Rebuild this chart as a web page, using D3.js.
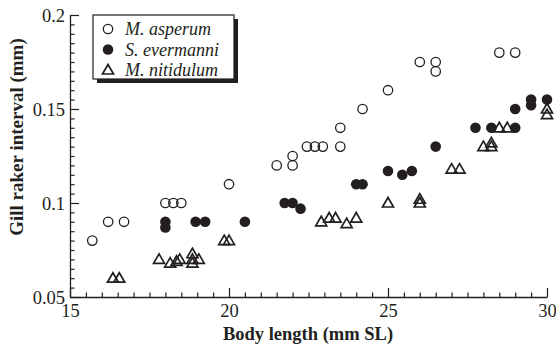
<!DOCTYPE html>
<html>
<head>
<meta charset="utf-8">
<script src="https://cdn.jsdelivr.net/npm/d3@7"></script>
<style>
  body { margin: 0; background: #fff; }
  svg { display: block; }
  text { font-family: "Liberation Serif", "Times New Roman", serif; fill: #231f20; }
</style>
</head>
<body>
<svg id="chart" width="556" height="347"></svg>
<script>
// ---- data ----
const seriesNames = ["M. asperum", "S. evermanni", "M. nitidulum"];
const asperumX = [15.7, 16.2, 16.7, 18.0, 18.25, 18.5, 20.0, 21.5, 22.0, 22.0, 22.45, 22.7, 22.95, 23.5, 23.5, 24.2, 25.0, 26.0, 26.5, 26.5, 28.5, 29.0];
const asperumY = [0.08, 0.09, 0.09, 0.1, 0.1, 0.1, 0.11, 0.12, 0.12, 0.125, 0.13, 0.13, 0.13, 0.13, 0.14, 0.15, 0.16, 0.175, 0.17, 0.175, 0.18, 0.18];
const evermanniX = [18.0, 18.0, 18.95, 19.25, 20.5, 21.75, 22.0, 22.25, 24.0, 24.2, 25.0, 25.45, 25.75, 26.5, 27.75, 28.25, 29.0, 29.0, 29.5, 29.5, 30.0];
const evermanniY = [0.09, 0.087, 0.09, 0.09, 0.09, 0.1, 0.1, 0.097, 0.11, 0.11, 0.117, 0.115, 0.117, 0.13, 0.14, 0.14, 0.14, 0.15, 0.155, 0.152, 0.155];
const nitidulumX = [16.35, 16.55, 17.8, 18.15, 18.35, 18.45, 18.85, 18.85, 18.85, 19.05, 19.85, 20.0, 22.9, 23.15, 23.35, 23.7, 24.0, 25.0, 26.0, 26.0, 27.0, 27.25, 28.0, 28.25, 28.25, 28.5, 28.75, 30.0, 30.0];
const nitidulumY = [0.06, 0.06, 0.07, 0.068, 0.069, 0.07, 0.073, 0.068, 0.07, 0.07, 0.08, 0.08, 0.09, 0.092, 0.092, 0.089, 0.092, 0.1, 0.102, 0.1, 0.118, 0.118, 0.13, 0.132, 0.13, 0.14, 0.14, 0.15, 0.147];
const xMajorTicks = [15, 20, 25, 30];
const yMajorTicks = [0.05, 0.1, 0.15, 0.2];
const yTickLabels = ["0.05", "0.1", "0.15", "0.2"];
const xTitle = "Body length (mm SL)";
const yTitle = "Gill raker interval (mm)";

// ---- layout ----
const svg = d3.select("#chart");
const x = d3.scaleLinear().domain([15, 30]).range([70, 547]);
const y = d3.scaleLinear().domain([0.05, 0.2]).range([297, 15]);
const ink = "#231f20";

const xMinor = d3.range(15, 30.001, 0.5).filter(v => Math.abs(v % 5) > 1e-6);
const yMinor = d3.range(0.05, 0.2001, 0.005).map(v => +v.toFixed(3)).filter(v => !yMajorTicks.some(m => Math.abs(m - v) < 1e-6));

// minor ticks
svg.append("g").attr("transform", "translate(0,297)")
  .call(d3.axisBottom(x).tickValues(xMinor).tickSize(-4.5).tickSizeOuter(0).tickFormat(""))
  .call(g => g.select(".domain").remove());
svg.append("g").attr("transform", "translate(70,0)")
  .call(d3.axisLeft(y).tickValues(yMinor).tickSize(-4.5).tickSizeOuter(0).tickFormat(""))
  .call(g => g.select(".domain").remove());

// major axes
const gx = svg.append("g").attr("transform", "translate(0,297)")
  .call(d3.axisBottom(x).tickValues(xMajorTicks).tickSize(-9).tickSizeOuter(0).tickPadding(7).tickFormat(d3.format("d")));
const gy = svg.append("g").attr("transform", "translate(70,0)")
  .call(d3.axisLeft(y).tickValues(yMajorTicks).tickSize(-9).tickSizeOuter(0).tickPadding(5)
    .tickFormat(d => yTickLabels[yMajorTicks.indexOf(d)]));
svg.selectAll(".tick line").attr("stroke", ink).attr("stroke-width", 1.2);
svg.selectAll(".domain").attr("stroke", ink).attr("stroke-width", 1.3);
svg.selectAll(".tick text").style("font-family", '"Liberation Serif", serif').style("font-size", "18.5px").attr("fill", ink);
gx.selectAll(".tick text").attr("dy", "0.71em");
gy.selectAll(".tick text").attr("dy", "0.35em");

// axis titles
svg.append("text").attr("x", 308).attr("y", 340).attr("text-anchor", "middle")
  .style("font-size", "18.5px").style("font-weight", "bold").text(xTitle);
svg.append("text").attr("transform", "translate(23,137) rotate(-90)").attr("text-anchor", "middle")
  .style("font-size", "19px").style("font-weight", "bold").text(yTitle);

// symbols
const triPath = (s) => `M0,${-s * 0.55}L${s * 0.55},${s * 0.4}L${-s * 0.55},${s * 0.4}Z`;
function drawCircles(xs, ys, filled) {
  svg.append("g").selectAll("circle").data(xs.map((d, i) => [d, ys[i]])).join("circle")
    .attr("cx", d => x(d[0])).attr("cy", d => y(d[1])).attr("r", filled ? 5.3 : 4.7)
    .attr("fill", filled ? ink : "white").attr("fill-opacity", filled ? 1 : 0)
    .attr("stroke", ink).attr("stroke-width", filled ? 0 : 1.3);
}
function drawTriangles(xs, ys) {
  svg.append("g").selectAll("path").data(xs.map((d, i) => [d, ys[i]])).join("path")
    .attr("transform", d => `translate(${x(d[0])},${y(d[1])})`)
    .attr("d", triPath(10)).attr("fill", "none").attr("stroke", ink).attr("stroke-width", 1.7)
    .attr("stroke-linejoin", "miter");
}
drawCircles(asperumX, asperumY, false);
drawCircles(evermanniX, evermanniY, true);
drawTriangles(nitidulumX, nitidulumY);

// legend
const lg = svg.append("g");
lg.append("rect").attr("x", 97).attr("y", 19).attr("width", 141).attr("height", 64).attr("fill", ink);
lg.append("rect").attr("x", 93).attr("y", 15).attr("width", 141).attr("height", 64).attr("fill", "white").attr("stroke", ink).attr("stroke-width", 1.2);
const rowsY = [29, 49.5, 70];
lg.append("circle").attr("cx", 108).attr("cy", rowsY[0]).attr("r", 4.7).attr("fill", "none").attr("stroke", ink).attr("stroke-width", 1.3);
lg.append("circle").attr("cx", 108).attr("cy", rowsY[1]).attr("r", 5.3).attr("fill", ink);
lg.append("path").attr("transform", `translate(108,${rowsY[2]})`).attr("d", triPath(10)).attr("fill", "none").attr("stroke", ink).attr("stroke-width", 1.7);
seriesNames.forEach((n, i) => {
  lg.append("text").attr("x", 125).attr("y", rowsY[i]).attr("dy", "0.35em")
    .style("font-size", "18px").style("font-style", "italic").text(n);
});
</script>
</body>
</html>
